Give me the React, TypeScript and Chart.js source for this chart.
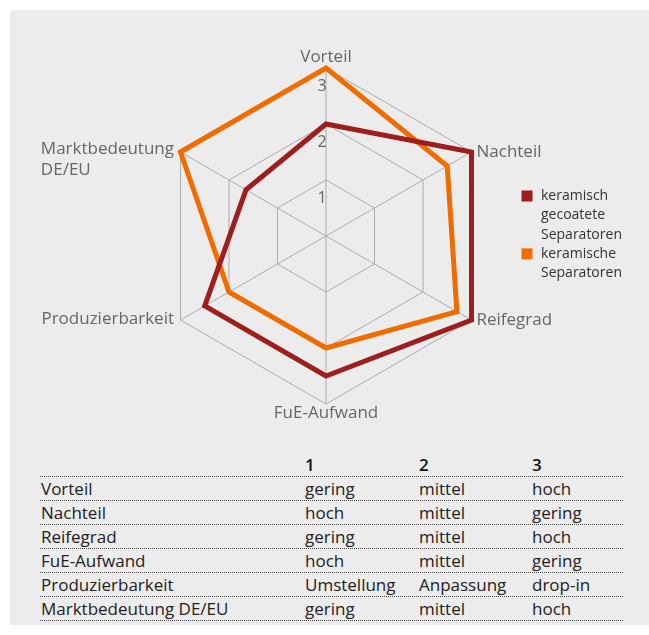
import React, { useEffect, useRef } from "react";
import { Chart, registerables } from "chart.js";

Chart.register(...registerables);

const axisLabels: string[][] = [
  ["Vorteil"],
  ["Nachteil"],
  ["Reifegrad"],
  ["FuE-Aufwand"],
  ["Produzierbarkeit"],
  ["Marktbedeutung", "DE/EU"],
];
const seriesNames = ["keramisch gecoatete Separatoren", "keramische Separatoren"];
const gecoateteValues = [2, 3, 3, 2.5, 2.5, 1.65];
const keramischeValues = [3, 2.5, 2.7, 2, 2, 3];
const seriesColors = ["#9e1d1d", "#f06c00"];
const scaleTicks = [1, 2, 3];

const tableHeader = ["", "1", "2", "3"];
const tableRows: string[][] = [
  ["Vorteil", "gering", "mittel", "hoch"],
  ["Nachteil", "hoch", "mittel", "gering"],
  ["Reifegrad", "gering", "mittel", "hoch"],
  ["FuE-Aufwand", "hoch", "mittel", "gering"],
  ["Produzierbarkeit", "Umstellung", "Anpassung", "drop-in"],
  ["Marktbedeutung DE/EU", "gering", "mittel", "hoch"],
];

const FONT = '"Open Sans", "Noto Sans", sans-serif';

const labelPlugin = {
  id: "customLabels",
  afterDraw(chart: any) {
    const scale = chart.scales.r;
    const ctx = chart.ctx as CanvasRenderingContext2D;
    ctx.save();
    // point labels
    ctx.font = `17px ${FONT}`;
    ctx.fillStyle = "#666666";
    ctx.textBaseline = "middle";
    const lineH = 21.5;
    (chart.data.labels as string[][]).forEach((lines, i) => {
      const p = scale.getPointPosition(i, scale.drawingArea);
      const dx = p.x - scale.xCenter;
      const dy = p.y - scale.yCenter;
      if (Math.abs(dx) < 1) {
        ctx.textAlign = "center";
        const y = dy < 0 ? p.y - 11 : p.y + 9;
        lines.forEach((l, k) => ctx.fillText(l, p.x, y + k * lineH));
      } else if (dx > 0) {
        ctx.textAlign = "left";
        lines.forEach((l, k) => ctx.fillText(l, p.x + 5, p.y + k * lineH));
      } else {
        ctx.textAlign = "left";
        const w = Math.max(...lines.map((l) => ctx.measureText(l).width));
        const x0 = p.x - 6.5 - w;
        const y0 = p.y - (lines.length > 1 ? 3 : 1);
        lines.forEach((l, k) => ctx.fillText(l, x0, y0 + k * lineH));
      }
    });
    // tick labels
    ctx.font = `16px ${FONT}`;
    ctx.textAlign = "center";
    ctx.fillStyle = "#666666";
    scaleTicks.forEach((v) => {
      const d = scale.getDistanceFromCenterForValue(v);
      ctx.fillText(String(v), scale.xCenter - 4, scale.yCenter - d + 18);
    });
    // legend
    ctx.font = `14px ${FONT}`;
    ctx.textAlign = "left";
    const lx = 511.5;
    const tx = 531;
    let y = 186;
    const lh = 19.3;
    chart.data.datasets.forEach((ds: any) => {
      const words = String(ds.label).split(" ");
      const lines: string[] = [];
      let cur = "";
      words.forEach((w) => {
        const t = cur ? cur + " " + w : w;
        if (cur && ctx.measureText(t).width > 95) {
          lines.push(cur);
          cur = w;
        } else cur = t;
      });
      if (cur) lines.push(cur);
      ctx.fillStyle = ds.borderColor;
      ctx.fillRect(lx, y - 5.5, 11, 11);
      ctx.fillStyle = "#333333";
      lines.forEach((l, k) => ctx.fillText(l, tx, y + k * lh));
      y += lines.length * lh;
    });
    ctx.restore();
  },
};

function RadarChart() {
  const ref = useRef<HTMLCanvasElement | null>(null);
  useEffect(() => {
    if (!ref.current) return;
    const chart = new Chart(ref.current, {
      type: "radar",
      data: {
        labels: axisLabels as any,
        datasets: [
          {
            label: seriesNames[0],
            data: gecoateteValues,
            borderColor: seriesColors[0],
            backgroundColor: "transparent",
            borderWidth: 5,
            pointRadius: 0,
            fill: false,
            borderJoinStyle: "miter",
          },
          {
            label: seriesNames[1],
            data: keramischeValues,
            borderColor: seriesColors[1],
            backgroundColor: "transparent",
            borderWidth: 5,
            pointRadius: 0,
            fill: false,
            borderJoinStyle: "miter",
          },
        ],
      },
      options: {
        responsive: false,
        animation: false,
        layout: { padding: { left: 148, top: 58, right: 155, bottom: 46 } },
        plugins: { legend: { display: false }, tooltip: { enabled: false } },
        scales: {
          r: {
            min: 0,
            max: 3,
            ticks: { display: false, stepSize: 1 },
            pointLabels: { display: false },
            grid: { color: "#ababab", lineWidth: 1 },
            angleLines: { color: "#ababab", lineWidth: 1 },
          },
        },
      },
      plugins: [labelPlugin],
    });
    return () => chart.destroy();
  }, []);
  return (
    <canvas
      ref={ref}
      width={639}
      height={440}
      style={{ position: "absolute", left: 0, top: 0, display: "block" }}
    />
  );
}

export default function App() {
  const colW = [264, 114, 113, 92];
  const rowStyle: React.CSSProperties = {
    display: "flex",
    alignItems: "center",
    height: 23,
    borderBottom: "1px dotted #444",
    width: 583,
  };
  return (
    <div
      style={{
        position: "absolute",
        left: 10,
        top: 10,
        right: 0,
        height: 615,
        background: "#ececec",
        fontFamily: FONT,
        overflow: "hidden",
      }}
    >
      <RadarChart />
      <div style={{ position: "absolute", left: 30, top: 443 }}>
        <div style={rowStyle}>
          {tableHeader.map((h, i) => (
            <div
              key={i}
              style={{ width: colW[i], paddingLeft: 1, boxSizing: "border-box", fontSize: 17, fontWeight: 600, color: "#111" }}
            >
              {h}
            </div>
          ))}
        </div>
        {tableRows.map((r, ri) => (
          <div key={ri} style={rowStyle}>
            {r.map((c, i) => (
              <div
                key={i}
                style={{ width: colW[i], paddingLeft: 1, boxSizing: "border-box", fontSize: 17, color: "#222", whiteSpace: "nowrap" }}
              >
                {c}
              </div>
            ))}
          </div>
        ))}
      </div>
    </div>
  );
}
